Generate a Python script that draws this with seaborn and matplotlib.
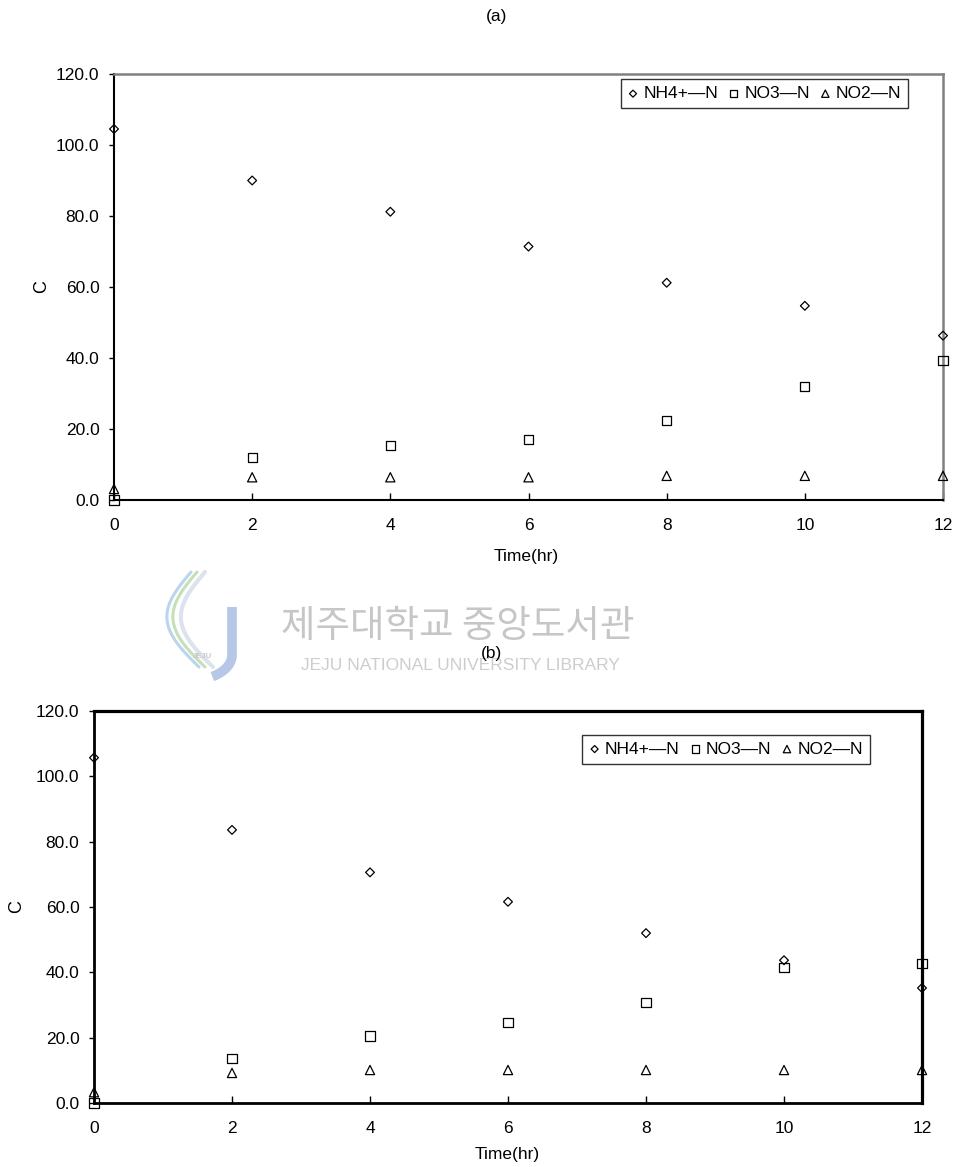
import numpy as np
import pandas as pd
import matplotlib
matplotlib.use("Agg")
import matplotlib.pyplot as plt
import seaborn as sns

# Sampling times (hr)
hours = [0, 2, 4, 6, 8, 10, 12]
species = ["NH4+—N", "NO3—N", "NO2—N"]

# Panel (a) concentrations
nh4_a = [104.5, 90.0, 81.2, 71.4, 61.2, 54.7, 46.3]
no3_a = [0.0, 11.9, 15.4, 17.1, 22.3, 32.0, 39.3]
no2_a = [3.1, 6.4, 6.4, 6.4, 6.8, 6.8, 6.8]

# Panel (b) concentrations
nh4_b = [105.7, 83.6, 70.6, 61.6, 52.0, 43.7, 35.2]
no3_b = [0.0, 13.6, 20.5, 24.7, 30.8, 41.5, 42.6]
no2_b = [3.3, 9.2, 10.1, 10.1, 10.1, 10.1, 10.1]

y_ticks = [0, 20, 40, 60, 80, 100, 120]
x_ticks = hours

sns.set_theme(style="white")
plt.rcParams["font.family"] = ["Liberation Sans", "DejaVu Sans"]
for key in ["text.color", "axes.labelcolor", "xtick.color", "ytick.color"]:
    plt.rcParams[key] = "black"

NARROW = ["Liberation Sans Narrow", "Liberation Sans", "DejaVu Sans"]

W, H = 962, 1167
fig = plt.figure(figsize=(W / 100, H / 100), dpi=100)


def px(x, y):
    return (x / W, 1 - y / H)


def box(l, t, r, b):
    return [l / W, 1 - b / H, (r - l) / W, (b - t) / H]


markers = ["D", "s", "^"]
sizes = [20, 44, 44]


def draw_panel(ax, series, spine_lw, top_right_color, legend_anchor):
    df = pd.DataFrame({
        "Time": hours * len(series),
        "C": np.concatenate(series),
        "Species": np.repeat(species, len(hours)),
    })
    for name, mk, sz in zip(species, markers, sizes):
        sub = df[df["Species"] == name]
        sns.scatterplot(data=sub, x="Time", y="C", marker=mk, s=sz,
                        facecolors="none", edgecolor="black", linewidth=0.9,
                        label=name, ax=ax, clip_on=False, zorder=5)
    ax.set_xlim(0, 12)
    ax.set_ylim(0, 120)
    ax.set_xticks(x_ticks)
    ax.set_xticklabels([str(v) for v in x_ticks])
    ax.set_yticks(y_ticks)
    ax.set_yticklabels([f"{v:.1f}" for v in y_ticks])
    ax.set_xlabel("")
    ax.set_ylabel("")
    ax.tick_params(axis="x", direction="in", length=5, width=1, pad=13,
                   labelsize=12.5, colors="black", bottom=True)
    ax.tick_params(axis="y", direction="out", length=3.5, width=1, pad=7,
                   labelsize=12.5, colors="black", left=True)
    for side in ["left", "bottom"]:
        ax.spines[side].set_color("black")
        ax.spines[side].set_linewidth(spine_lw)
    for side in ["top", "right"]:
        ax.spines[side].set_color(top_right_color)
        ax.spines[side].set_linewidth(spine_lw + 0.3)
    leg = ax.legend(loc="upper right", bbox_to_anchor=legend_anchor,
                    borderaxespad=0, ncol=3, frameon=True,
                    prop={"family": NARROW, "size": 12.5},
                    fancybox=False, edgecolor="black", handlelength=0.6,
                    handletextpad=0.3, columnspacing=0.6, borderpad=0.4,
                    markerscale=0.8)
    leg.get_frame().set_linewidth(1.0)
    leg.get_frame().set_facecolor("white")


# Panel (a)
ax_a = fig.add_axes(box(114, 74, 943, 500))
draw_panel(ax_a, [nh4_a, no3_a, no2_a], 1.5, "#808080", (0.958, 0.988))
fig.text(*px(497, 17), "(a)", fontsize=12.5, ha="center", va="center")
fig.text(*px(42, 287), "C", fontsize=13, rotation=90, ha="center", va="center")
fig.text(*px(526, 556), "Time(hr)", fontsize=12.5, family=NARROW,
         ha="center", va="center")

# Panel (b)
ax_b = fig.add_axes(box(94, 711, 922, 1103))
draw_panel(ax_b, [nh4_b, no3_b, no2_b], 2.0, "black", (0.937, 0.94))
fig.text(*px(492, 653), "(b)", fontsize=12.5, ha="center", va="center", zorder=10)
fig.text(*px(17, 907), "C", fontsize=13, rotation=90, ha="center", va="center")
fig.text(*px(507, 1154), "Time(hr)", fontsize=12.5, family=NARROW,
         ha="center", va="center")

# Library watermark between the panels
fig.text(*px(458, 626), "제주대학교 중앙도서관", fontsize=27, color="#c6c6c6",
         family=["Noto Sans CJK KR", "DejaVu Sans"], ha="center", va="center", zorder=1)
fig.text(*px(460, 665), "JEJU NATIONAL UNIVERSITY LIBRARY", fontsize=12.5,
         color="#cdcdcd", ha="center", va="center", zorder=1)

t = np.linspace(0, 1, 60)
# J-shaped emblem stroke
jx = np.concatenate([np.full(20, 232.0), 232 - 40 * (1 - np.cos(t[:40] * np.pi / 2))])
jy = np.concatenate([np.linspace(607, 655, 20), 655 + 25 * np.sin(t[:40] * np.pi / 2)])
fig.add_artist(plt.Line2D(jx / W, 1 - jy / H, color="#b7c8e6", lw=7,
                          solid_capstyle="butt", zorder=1))
# flowing strokes
for dx, col, lw in [(0, "#c5dfb8", 2.2), (-6, "#b9d6ec", 2.2), (8, "#dde3ec", 3.0)]:
    cy = 572 + 95 * t
    cx = 197 + dx - 28 * np.sin(t * np.pi) + 8 * t
    fig.add_artist(plt.Line2D(cx / W, 1 - cy / H, color=col, lw=lw, zorder=1))
fig.text(*px(202, 657), "JEJU", fontsize=5.5, color="#c8c8c8", ha="center",
         va="center", fontweight="bold")

fig.savefig("out.png", dpi=100)
